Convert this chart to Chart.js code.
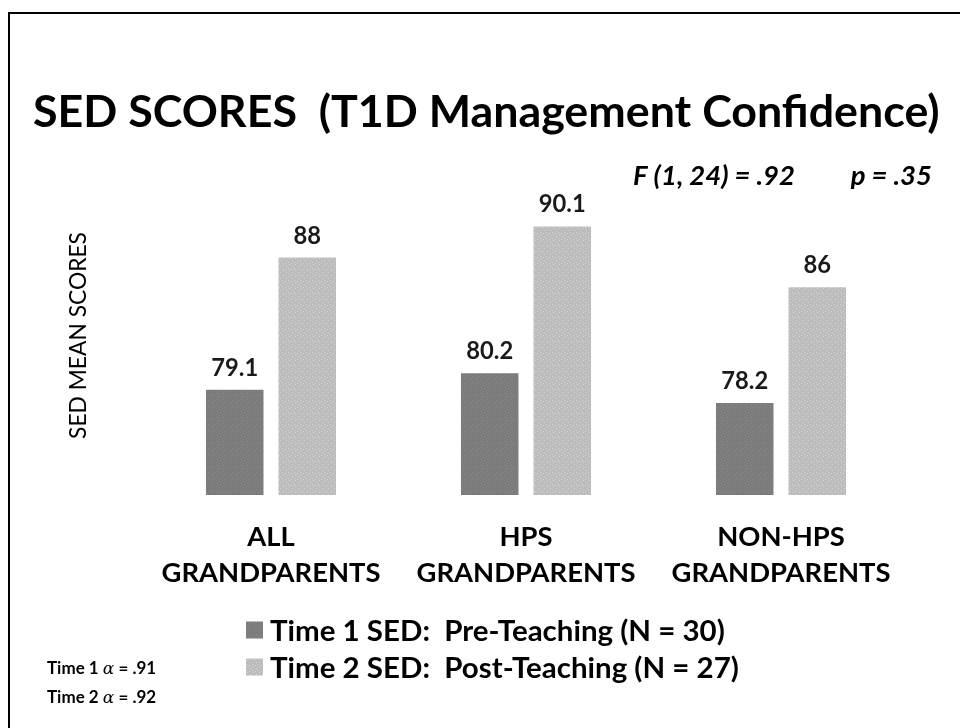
<!DOCTYPE html>
<html><head><meta charset="utf-8">
<script src="https://cdn.jsdelivr.net/npm/chart.js@4.4.1/dist/chart.umd.min.js"></script>
<style>html,body{margin:0;padding:0;background:#fff}#wrap{position:relative;width:960px;height:728px}</style>
</head><body><div id="wrap"><canvas id="c" width="960" height="728"></canvas></div>
<script>
// ---- data ----
const categories = [["ALL", "GRANDPARENTS"], ["HPS", "GRANDPARENTS"], ["NON-HPS", "GRANDPARENTS"]];
const seriesNames = ["Time 1 SED:  Pre-Teaching (N = 30)", "Time 2 SED:  Post-Teaching (N = 27)"];
const time1Values = [79.1, 80.2, 78.2];
const time2Values = [88, 90.1, 86];
const time1Labels = ["79.1", "80.2", "78.2"];
const time2Labels = ["88", "90.1", "86"];
const titleText = "SED SCORES  (T1D Management Confidence)";
const statLeft = "F (1, 24) = .92";
const statRight = "p = .35";
const alphaNotes = [["Time 1 ", "\u03B1", " = .91"], ["Time 2 ", "\u03B1", " = .92"]];
const yAxisTitle = "SED MEAN SCORES";
const yMin = 72, yMax = 93.5;

// ---- styling helpers ----
const FAM = "Lato, 'Open Sans', sans-serif";
const mctx = document.createElement('canvas').getContext('2d');
function fitSize(text, style, target) {
  mctx.font = style + " 100px " + FAM;
  return 100 * target / mctx.measureText(text).width;
}
const titleSize = fitSize(titleText, "bold", 907);
const tickSize = fitSize("GRANDPARENTS", "bold", 219);
const ySize = fitSize(yAxisTitle, "normal", 207);
const legendSize = fitSize(seriesNames[0], "bold", 455);
const statSize = fitSize(statLeft, "italic bold", 162);
const valueSize = fitSize("79.1", "bold", 47);
const noteSize = fitSize("Time 1 \u03B1 = .91", "bold", 108);

function makePattern(base, dot, dots) {
  const p = document.createElement('canvas');
  p.width = 6; p.height = 6;
  const g = p.getContext('2d');
  g.fillStyle = base; g.fillRect(0, 0, 6, 6);
  g.fillStyle = dot;
  dots.forEach(d => g.fillRect(d[0], d[1], 1, 1));
  return g.createPattern(p, 'repeat');
}
const ctx = document.getElementById('c').getContext('2d');
const darkFill = makePattern('#7b7b7b', '#8a8a8a', [[0,0],[3,1],[1,3],[4,4],[2,5]]);
const lightFill = makePattern('#bcbcbc', '#d6d6d6', [[1,0],[4,2],[0,4],[3,5]]);

const yLineH = ySize * 1.2;
const yPadTop = 79 - 20 - yLineH / 2;
const yPadBottom = 143.5 - 20 - yLineH - yPadTop;

const decor = {
  id: 'decor',
  afterDraw(chart) {
    const c = chart.ctx;
    c.save();
    // frame
    c.strokeStyle = '#000'; c.lineWidth = 2;
    c.beginPath(); c.moveTo(9, 728); c.lineTo(9, 13); c.lineTo(960, 13); c.stroke();
    // title
    c.fillStyle = '#000';
    c.textBaseline = 'alphabetic'; c.textAlign = 'left';
    c.font = "bold " + titleSize + "px " + FAM;
    c.fillText(titleText, 33, 127);
    // stats
    c.font = "italic bold " + statSize + "px " + FAM;
    c.fillText(statLeft, 633, 185);
    c.textAlign = 'right';
    c.fillText(statRight, 932, 185);
    // value labels
    c.textAlign = 'center';
    c.font = "bold " + valueSize + "px " + FAM;
    c.fillStyle = '#1a1a1a';
    chart.data.datasets.forEach((ds, di) => {
      const meta = chart.getDatasetMeta(di);
      meta.data.forEach((el, i) => {
        c.fillText(ds.valueLabels[i], el.x, el.y - 14);
      });
    });
    // legend
    c.textAlign = 'left'; c.textBaseline = 'middle';
    c.font = "bold " + legendSize + "px " + FAM;
    const rows = [630, 667];
    chart.data.datasets.forEach((ds, di) => {
      c.fillStyle = ds.backgroundColor;
      c.fillRect(246, rows[di] - 8.5, 17, 17);
      c.fillStyle = '#000';
      c.fillText(ds.label, 270, rows[di] + 1);
    });
    // alpha notes
    const noteRows = [674, 703];
    c.textBaseline = 'alphabetic';
    alphaNotes.forEach((parts, r) => {
      let x = 47;
      parts.forEach((t, k) => {
        c.font = (k === 1 ? "italic " : "bold ") + noteSize + "px " + (k === 1 ? "'DejaVu Serif', serif" : FAM);
        c.fillText(t, x, noteRows[r]);
        x += c.measureText(t).width;
      });
    });
    c.restore();
  }
};

new Chart(ctx, {
  type: 'bar',
  data: {
    labels: categories,
    datasets: [
      { label: seriesNames[0], data: time1Values, valueLabels: time1Labels, backgroundColor: darkFill },
      { label: seriesNames[1], data: time2Values, valueLabels: time2Labels, backgroundColor: lightFill }
    ]
  },
  options: {
    responsive: false,
    animation: false,
    layout: { padding: { left: 20, right: 51.5, top: 176, bottom: 113 } },
    datasets: { bar: { categoryPercentage: 0.569, barPercentage: 0.793 } },
    plugins: { legend: { display: false }, tooltip: { enabled: false }, title: { display: false } },
    scales: {
      x: {
        grid: { display: false, drawTicks: false },
        border: { display: false },
        ticks: { color: '#000', autoSkip: false, maxRotation: 0, padding: 24,
                 font: { family: FAM, weight: 'bold', size: tickSize, lineHeight: '36px' } }
      },
      y: {
        min: yMin, max: yMax,
        grid: { display: false, drawTicks: false },
        border: { display: false },
        ticks: { display: false },
        title: { display: true, text: yAxisTitle, color: '#000',
                 font: { family: FAM, size: ySize, lineHeight: 1.2 },
                 padding: { top: yPadTop, bottom: yPadBottom } }
      }
    }
  },
  plugins: [decor]
});
</script>
</body></html>
